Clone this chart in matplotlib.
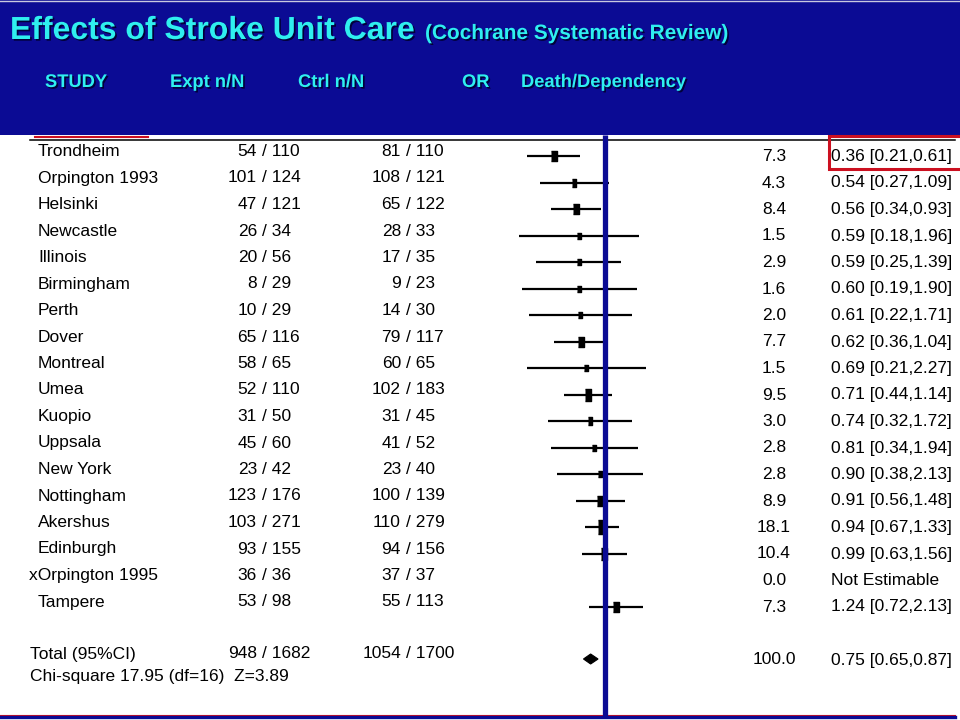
import numpy as np
import matplotlib
matplotlib.use("Agg")
import matplotlib.pyplot as plt
import matplotlib.patheffects as pe
from matplotlib.patches import Rectangle, Polygon

# ---------------- data ----------------
studies = ['Trondheim', 'Orpington 1993', 'Helsinki', 'Newcastle', 'Illinois',
           'Birmingham', 'Perth', 'Dover', 'Montreal', 'Umea', 'Kuopio',
           'Uppsala', 'New York', 'Nottingham', 'Akershus', 'Edinburgh',
           'xOrpington 1995', 'Tampere']
expt_n = [54, 101, 47, 26, 20, 8, 10, 65, 58, 52, 31, 45, 23, 123, 103, 93, 36, 53]
expt_N = [110, 124, 121, 34, 56, 29, 29, 116, 65, 110, 50, 60, 42, 176, 271, 155, 36, 98]
ctrl_n = [81, 108, 65, 28, 17, 9, 14, 79, 60, 102, 31, 41, 23, 100, 110, 94, 37, 55]
ctrl_N = [110, 121, 122, 33, 35, 23, 30, 117, 65, 183, 45, 52, 40, 139, 279, 156, 37, 113]
weights = [7.3, 4.3, 8.4, 1.5, 2.9, 1.6, 2.0, 7.7, 1.5, 9.5, 3.0, 2.8, 2.8, 8.9, 18.1, 10.4, 0.0, 7.3]
odds = [0.36, 0.54, 0.56, 0.59, 0.59, 0.60, 0.61, 0.62, 0.69, 0.71, 0.74, 0.81,
        0.90, 0.91, 0.94, 0.99, np.nan, 1.24]
ci_lo = [0.21, 0.27, 0.34, 0.18, 0.25, 0.19, 0.22, 0.36, 0.21, 0.44, 0.32, 0.34,
         0.38, 0.56, 0.67, 0.63, np.nan, 0.72]
ci_hi = [0.61, 1.09, 0.93, 1.96, 1.39, 1.90, 1.71, 1.04, 2.27, 1.14, 1.72, 1.94,
         2.13, 1.48, 1.33, 1.56, np.nan, 2.13]

total_label = 'Total (95%CI)'
total_expt = (948, 1682)
total_ctrl = (1054, 1700)
total_weight = 100.0
total_or = (0.75, 0.65, 0.87)
stats_label = 'Chi-square 17.95 (df=16)  Z=3.89'

title = 'Effects of Stroke Unit Care'
subtitle = '(Cochrane Systematic Review)'
headers = ['STUDY', 'Expt n/N', 'Ctrl n/N', 'OR', 'Death/Dependency']

# ---------------- style ----------------
NAVY = '#0B0B94'
CYAN = '#2FEFEF'
RED = '#CC1020'
body_font = ['Liberation Sans Narrow', 'Liberation Sans', 'DejaVu Sans']
head_font = ['Liberation Sans', 'DejaVu Sans']
FS = 12.5

fig = plt.figure(figsize=(9.6, 7.2), dpi=100)
fig.patch.set_facecolor('white')

ax = fig.add_axes([0, 0, 1, 1])
ax.set_xlim(0, 960)
ax.set_ylim(720, 0)
ax.axis('off')

# forest axes: log scale 0.1 .. 10
fx = fig.add_axes([490 / 960, 0, 230 / 960, 1])
fx.set_xscale('log')
fx.set_xlim(0.1, 10)
fx.set_ylim(720, 0)
fx.axis('off')
fx.patch.set_alpha(0)

# header band
ax.add_patch(Rectangle((0, 0), 960, 135, facecolor=NAVY, edgecolor='none', zorder=1))
ax.plot([0, 960], [1, 1], color='#c8c8e0', lw=1, zorder=2)

shadow = [pe.withSimplePatchShadow(offset=(1.2, -1.2), shadow_rgbFace='#000030', alpha=0.9)]
ax.text(10, 39, title, color=CYAN, fontsize=23, fontweight='bold', family=head_font,
        va='baseline', ha='left', path_effects=shadow, zorder=3)
ax.text(425, 39, subtitle, color=CYAN, fontsize=15, fontweight='bold', family=head_font,
        va='baseline', ha='left', path_effects=shadow, zorder=3)
for label, x in zip(headers, [45, 170, 298, 462, 521]):
    ax.text(x, 87, label, color=CYAN, fontsize=13.2, fontweight='bold', family=head_font,
            va='baseline', ha='left', path_effects=shadow, zorder=3)

# top rule and red marks
ax.plot([30, 955], [139.5, 139.5], color='black', lw=1.1, zorder=2)
ax.plot([35, 148], [136.5, 136.5], color=RED, lw=1.5, zorder=2)
ax.plot([962, 829, 829, 962], [136, 136, 168.5, 168.5], color=RED, lw=2.2, zorder=4,
        solid_joinstyle='miter')

# bottom rule
ax.plot([0, 955], [715, 715], color=RED, lw=0.8, zorder=2)
ax.plot([0, 955], [717, 717], color=NAVY, lw=2.4, zorder=2)

# row positions
n = len(studies)
row0, step = 156, 26.5
rows = row0 + step * np.arange(n)
left_off = -4.5
right_off = 0.5

for i in range(n):
    y = rows[i]
    yl = y + left_off
    name_x = 29 if studies[i].startswith('x') else 38
    ax.text(name_x, yl, studies[i], fontsize=FS, family=body_font, va='center', ha='left')
    ax.text(257, yl, f'{expt_n[i]}', fontsize=FS, family=body_font, va='center', ha='right')
    ax.text(262, yl, f'/ {expt_N[i]}', fontsize=FS, family=body_font, va='center', ha='left')
    ax.text(401, yl, f'{ctrl_n[i]}', fontsize=FS, family=body_font, va='center', ha='right')
    ax.text(406, yl, f'/ {ctrl_N[i]}', fontsize=FS, family=body_font, va='center', ha='left')
    yr = y + right_off
    ax.text(774, yr, f'{weights[i]:.1f}', fontsize=FS, family=body_font, va='center', ha='center')
    if np.isnan(odds[i]):
        ortxt = 'Not Estimable'
    else:
        ortxt = f'{odds[i]:.2f} [{ci_lo[i]:.2f},{ci_hi[i]:.2f}]'
    ax.text(831, yr, ortxt, fontsize=FS, family=body_font, va='center', ha='left')

    if not np.isnan(odds[i]):
        fx.plot([ci_lo[i], ci_hi[i]], [y, y], color='black', lw=1.6, solid_capstyle='butt', zorder=3)
        ms = 1.6 * np.sqrt(weights[i]) + 1.0
        fx.plot([odds[i]], [y], marker=[(-0.6, -1), (0.6, -1), (0.6, 1), (-0.6, 1)],
                ms=ms * 1.35, color='black', mec='black', zorder=4)

# total row
yt = 659
ax.text(30, 654, total_label, fontsize=FS, family=body_font, va='center', ha='left')
ax.text(257, 654, f'{total_expt[0]}', fontsize=FS, family=body_font, va='center', ha='right')
ax.text(262, 654, f'/ {total_expt[1]}', fontsize=FS, family=body_font, va='center', ha='left')
ax.text(401, 654, f'{total_ctrl[0]}', fontsize=FS, family=body_font, va='center', ha='right')
ax.text(406, 654, f'/ {total_ctrl[1]}', fontsize=FS, family=body_font, va='center', ha='left')
ax.text(774, 660, f'{total_weight:.1f}', fontsize=FS, family=body_font, va='center', ha='center')
ax.text(831, 660, f'{total_or[0]:.2f} [{total_or[1]:.2f},{total_or[2]:.2f}]',
        fontsize=FS, family=body_font, va='center', ha='left')
ax.text(30, 677, stats_label, fontsize=FS, family=body_font, va='center', ha='left')

fx.add_patch(Polygon([(total_or[1], yt), (total_or[0], yt - 5), (total_or[2], yt),
                      (total_or[0], yt + 5)], closed=True, facecolor='black',
                     edgecolor='black', lw=0.8, zorder=4))

# line of no effect
fx.plot([1, 1], [135, 717], color=NAVY, lw=3.8, solid_capstyle='butt', zorder=5)

fig.savefig('out.png', dpi=100)
